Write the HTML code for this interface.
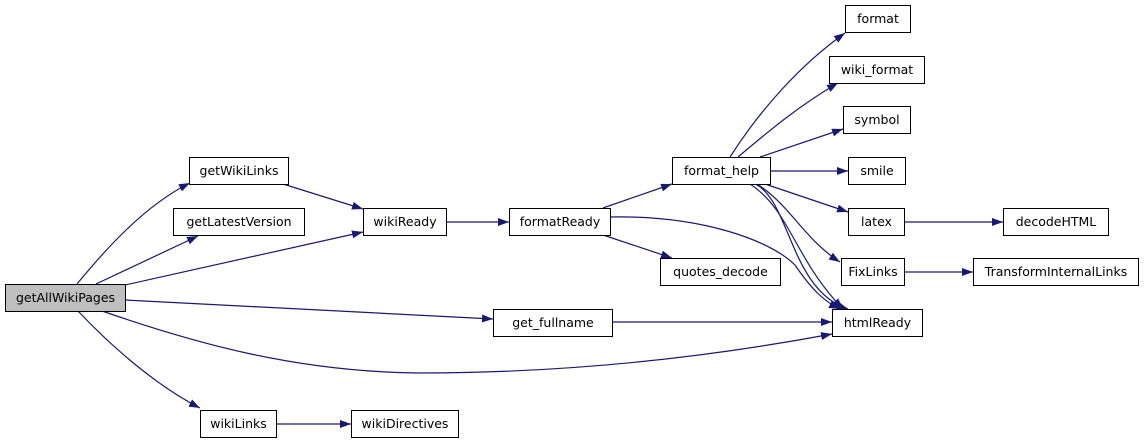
<!DOCTYPE html>
<html><head><meta charset="utf-8"><style>
html,body{margin:0;padding:0;background:#fff;width:1144px;height:443px;overflow:hidden}
svg{display:block}
text{font-family:"DejaVu Sans","Liberation Sans",sans-serif;font-size:12.5px;fill:#000}
</style></head><body>
<svg width="1144" height="443" viewBox="0 0 1144 443" xmlns="http://www.w3.org/2000/svg">
<defs><marker id="a" markerWidth="11" markerHeight="8" refX="11" refY="4" orient="auto" markerUnits="userSpaceOnUse"><polygon points="0,0 11,4 0,8" fill="#191970"/></marker></defs>
<g fill="none" stroke="#191970" stroke-width="1.2" marker-end="url(#a)">
<path d="M77,284 C105,250 145,205 190,183"/>
<path d="M96,284 L198,236"/>
<path d="M125,285 L363,232"/>
<path d="M125,300 L493,319"/>
<path d="M102,311 C200,345 300,372 420,373 C580,373 720,355 832,334"/>
<path d="M78,311 C110,345 155,385 200,408"/>
<path d="M283,184 L363,209"/>
<path d="M446,222 L509,222"/>
<path d="M603,208 L672,184"/>
<path d="M603,235 L672,258"/>
<path d="M610,217 C700,215 770,240 795,265 C812,290 825,302 840,309"/>
<path d="M730,157 C760,110 800,65 845,33"/>
<path d="M738,157 C770,130 800,105 838,83"/>
<path d="M760,157 L843,129"/>
<path d="M770,171 L848,171"/>
<path d="M765,184 L848,212"/>
<path d="M757,184 C790,205 805,240 840,262"/>
<path d="M750,184 C790,210 795,260 843,309"/>
<path d="M755,184 C790,200 790,290 848,309"/>
<path d="M904,222 L1003,222"/>
<path d="M904,272 L973,272"/>
<path d="M612,322 L832,322"/>
<path d="M276,424 L351,424"/>
</g>
<g stroke="#000" stroke-width="1" fill="#fff">
<rect x="5.5" y="284.5" width="120" height="27" fill="#bfbfbf"/>
<rect x="189.5" y="157.5" width="99" height="27"/>
<rect x="173.5" y="208.5" width="131" height="27"/>
<rect x="363.5" y="208.5" width="83" height="27"/>
<rect x="200.5" y="410.5" width="76" height="27"/>
<rect x="351.5" y="410.5" width="107" height="27"/>
<rect x="509.5" y="208.5" width="101" height="27"/>
<rect x="493.5" y="309.5" width="119" height="27"/>
<rect x="660.5" y="258.5" width="120" height="27"/>
<rect x="672.5" y="157.5" width="98" height="27"/>
<rect x="845.5" y="5.5" width="65" height="27"/>
<rect x="829.5" y="56.5" width="95" height="27"/>
<rect x="843.5" y="106.5" width="67" height="27"/>
<rect x="848.5" y="157.5" width="57" height="27"/>
<rect x="848.5" y="208.5" width="56" height="27"/>
<rect x="1003.5" y="208.5" width="105" height="27"/>
<rect x="841.5" y="258.5" width="63" height="27"/>
<rect x="973.5" y="258.5" width="165" height="27"/>
<rect x="832.5" y="309.5" width="90" height="27"/>
</g>
<g text-anchor="middle">
<text x="65.5" y="302">getAllWikiPages</text>
<text x="239" y="175">getWikiLinks</text>
<text x="239" y="226">getLatestVersion</text>
<text x="405" y="226">wikiReady</text>
<text x="238.5" y="428">wikiLinks</text>
<text x="405" y="428">wikiDirectives</text>
<text x="560" y="226">formatReady</text>
<text x="553" y="327">get_fullname</text>
<text x="720.5" y="276">quotes_decode</text>
<text x="721.5" y="175">format_help</text>
<text x="878" y="23">format</text>
<text x="877" y="74">wiki_format</text>
<text x="877" y="124">symbol</text>
<text x="877" y="175">smile</text>
<text x="876.5" y="226">latex</text>
<text x="1056" y="226">decodeHTML</text>
<text x="873" y="276">FixLinks</text>
<text x="1056" y="276">TransformInternalLinks</text>
<text x="877.5" y="327">htmlReady</text>
</g>
</svg>
</body></html>
